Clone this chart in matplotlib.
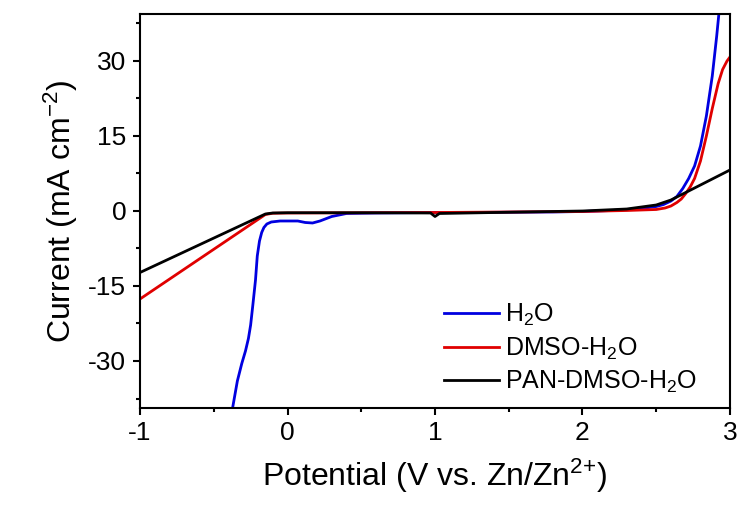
import numpy as np
import matplotlib
matplotlib.use('Agg')
import matplotlib.pyplot as plt
from matplotlib.ticker import MultipleLocator

plt.rcParams['font.family'] = ['Liberation Sans', 'DejaVu Sans']
plt.rcParams['mathtext.default'] = 'regular'
plt.rcParams['axes.unicode_minus'] = False
plt.rcParams['xtick.direction'] = 'out'
plt.rcParams['ytick.direction'] = 'out'

# LSV curves, potential (V vs. Zn/Zn2+) and current density (mA cm-2)
v_h2o = [-0.373, -0.34, -0.31, -0.285, -0.265, -0.25, -0.235, -0.217, -0.205, -0.19,
         -0.175, -0.16, -0.14, -0.11, -0.05, 0.07, 0.12, 0.17, 0.22, 0.30, 0.40,
         0.60, 0.80, 1.00, 1.20, 1.50, 1.80, 2.00, 2.20, 2.40, 2.50, 2.55, 2.60,
         2.64, 2.68, 2.72, 2.76, 2.80, 2.84, 2.88, 2.91, 2.93]
i_h2o = [-39.5, -34.0, -30.5, -28.0, -25.5, -22.8, -18.8, -13.8, -9.0, -6.0,
         -4.3, -3.3, -2.6, -2.2, -2.0, -2.0, -2.3, -2.4, -2.0, -1.1, -0.5,
         -0.4, -0.35, -0.3, -0.3, -0.25, -0.2, -0.1, 0.1, 0.5, 0.9, 1.3, 2.0,
         2.9, 4.5, 6.5, 9.0, 13.0, 19.0, 27.0, 35.0, 41.0]

v_dmso = [-1.0, -0.15, -0.10, 0.0, 0.5, 1.0, 1.5, 2.0, 2.3, 2.5, 2.56, 2.60, 2.64,
          2.67, 2.70, 2.73, 2.76, 2.80, 2.84, 2.88, 2.92, 2.95, 2.98, 3.0]
i_dmso = [-17.6, -0.7, -0.45, -0.4, -0.35, -0.3, -0.2, -0.1, 0.1, 0.3, 0.6, 1.0, 1.7,
          2.4, 3.5, 4.8, 6.5, 10.0, 15.0, 20.5, 25.5, 28.3, 30.0, 30.8]

v_pan = [-1.0, -0.15, -0.10, 0.0, 0.5, 0.97, 1.0, 1.03, 1.5, 2.0, 2.3, 2.5, 2.6, 3.0]
i_pan = [-12.3, -0.6, -0.4, -0.35, -0.35, -0.4, -1.1, -0.5, -0.25, 0.0, 0.4, 1.2, 2.2, 8.2]

fig = plt.figure(figsize=(7.42, 5.16), dpi=100)
ax = fig.add_axes([0.1887, 0.2093, 0.7951, 0.7636])

ax.plot(v_h2o, i_h2o, color='#0000e0', lw=2.0, label='H$_2$O')
ax.plot(v_dmso, i_dmso, color='#e00000', lw=2.0, label='DMSO-H$_2$O')
ax.plot(v_pan, i_pan, color='black', lw=2.0, label='PAN-DMSO-H$_2$O')

ax.set_xlim(-1, 3)
ax.set_ylim(-39.4, 39.4)
ax.xaxis.set_major_locator(MultipleLocator(1))
ax.xaxis.set_minor_locator(MultipleLocator(0.5))
ax.yaxis.set_major_locator(MultipleLocator(15))
ax.yaxis.set_minor_locator(MultipleLocator(7.5))
ax.tick_params(which='major', length=5, width=1.5, labelsize=19)
ax.tick_params(which='minor', length=3, width=1.5)
ax.tick_params(axis='x', pad=4)
ax.tick_params(axis='y', pad=5)
for s in ax.spines.values():
    s.set_linewidth(1.5)

ax.set_xlabel('Potential (V vs. Zn/Zn$^{2{+}}$)', fontsize=23, labelpad=9)
ax.set_ylabel('Current (mA cm$^{-2}$)', fontsize=23, labelpad=6)

ax.legend(loc='lower right', bbox_to_anchor=(1.0, -0.05), frameon=False,
          fontsize=18, handlelength=2.2, handletextpad=0.25,
          borderaxespad=0.9, labelspacing=0.3)

fig.savefig('out.png', dpi=100)
